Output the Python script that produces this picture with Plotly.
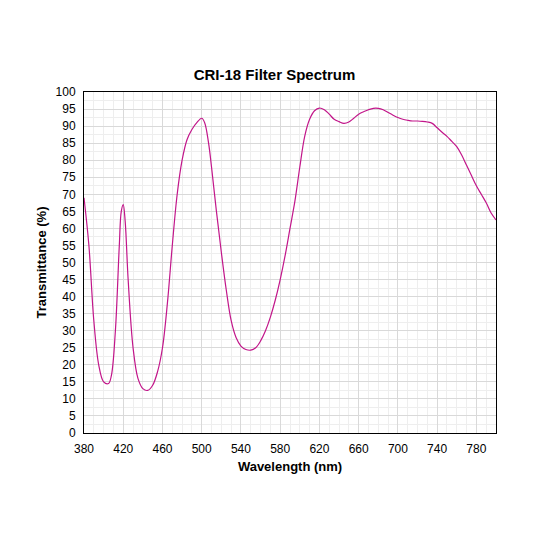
import plotly.graph_objects as go

wavelength = [380, 385, 390, 395, 400, 405, 408, 412, 416, 418, 420, 422, 425, 430, 435, 440, 445,
              450, 455, 460, 465, 470, 475, 480, 485, 490, 495, 500, 503, 507, 510, 515, 520, 525,
              530, 535, 540, 545, 550, 555, 560, 565, 570, 575, 580, 585, 590, 595, 600, 605, 610,
              615, 620, 625, 630, 635, 640, 645, 650, 655, 660, 665, 670, 675, 680, 685, 690, 695,
              700, 705, 710, 715, 720, 725, 730, 735, 740, 745, 750, 755, 760, 765, 770, 775, 780,
              785, 790, 795, 800]
transmittance = [69, 55, 33, 20, 15, 14.5, 17, 30, 55, 65, 67, 62, 45, 25, 16, 13, 12.5,
                 14, 18, 25, 38, 55, 70, 80, 86, 89, 91, 92.3, 91, 85, 78, 65, 53, 42,
                 33, 28, 25.5, 24.5, 24.3, 25, 27, 30, 34, 39, 45, 52, 60, 68, 78, 87, 92,
                 94.5, 95.3, 94.8, 93.5, 92, 91.3, 90.8, 91.2, 92.3, 93.5, 94.2, 94.8, 95.2, 95.2, 94.8, 94, 93.2,
                 92.5, 92, 91.7, 91.5, 91.5, 91.4, 91.2, 90.8, 89.5, 88.2, 87, 85.5, 84, 81.5, 78.5, 75.5, 72.5,
                 70, 67.5, 64.5, 62.5]

fig = go.Figure(go.Scatter(x=wavelength, y=transmittance, mode="lines",
                           line=dict(color="#c2168a", width=1.2, shape="spline"),
                           showlegend=False))

axis_common = dict(showline=True, linecolor="black", linewidth=1, mirror=True,
                   gridcolor="#d9d9d9", ticks="outside", ticklen=5, tickcolor="white",
                   zeroline=False, tickfont=dict(size=12, color="black"))
fig.update_xaxes(range=[380, 800], tick0=380, dtick=40,
                 minor=dict(dtick=10, showgrid=True, gridcolor="#eeeeee"),
                 title=dict(text="<b>Wavelength (nm)</b>", font=dict(size=13), standoff=6),
                 **axis_common)
fig.update_yaxes(range=[0, 100], dtick=5,
                 minor=dict(dtick=2.5, showgrid=True, gridcolor="#eeeeee"),
                 title=dict(text="<b>Transmittance (%)</b>", font=dict(size=13), standoff=6),
                 **axis_common)

fig.update_layout(
    title=dict(text="<b>CRI-18 Filter Spectrum</b>", x=0.5, y=0.885, xanchor="center",
               font=dict(size=15, color="black")),
    width=533, height=533,
    margin=dict(l=76, r=45, t=84, b=108),
    paper_bgcolor="white", plot_bgcolor="white",
    font=dict(family="Liberation Sans, Arial", color="black"),
)

fig.write_html("out.html")
